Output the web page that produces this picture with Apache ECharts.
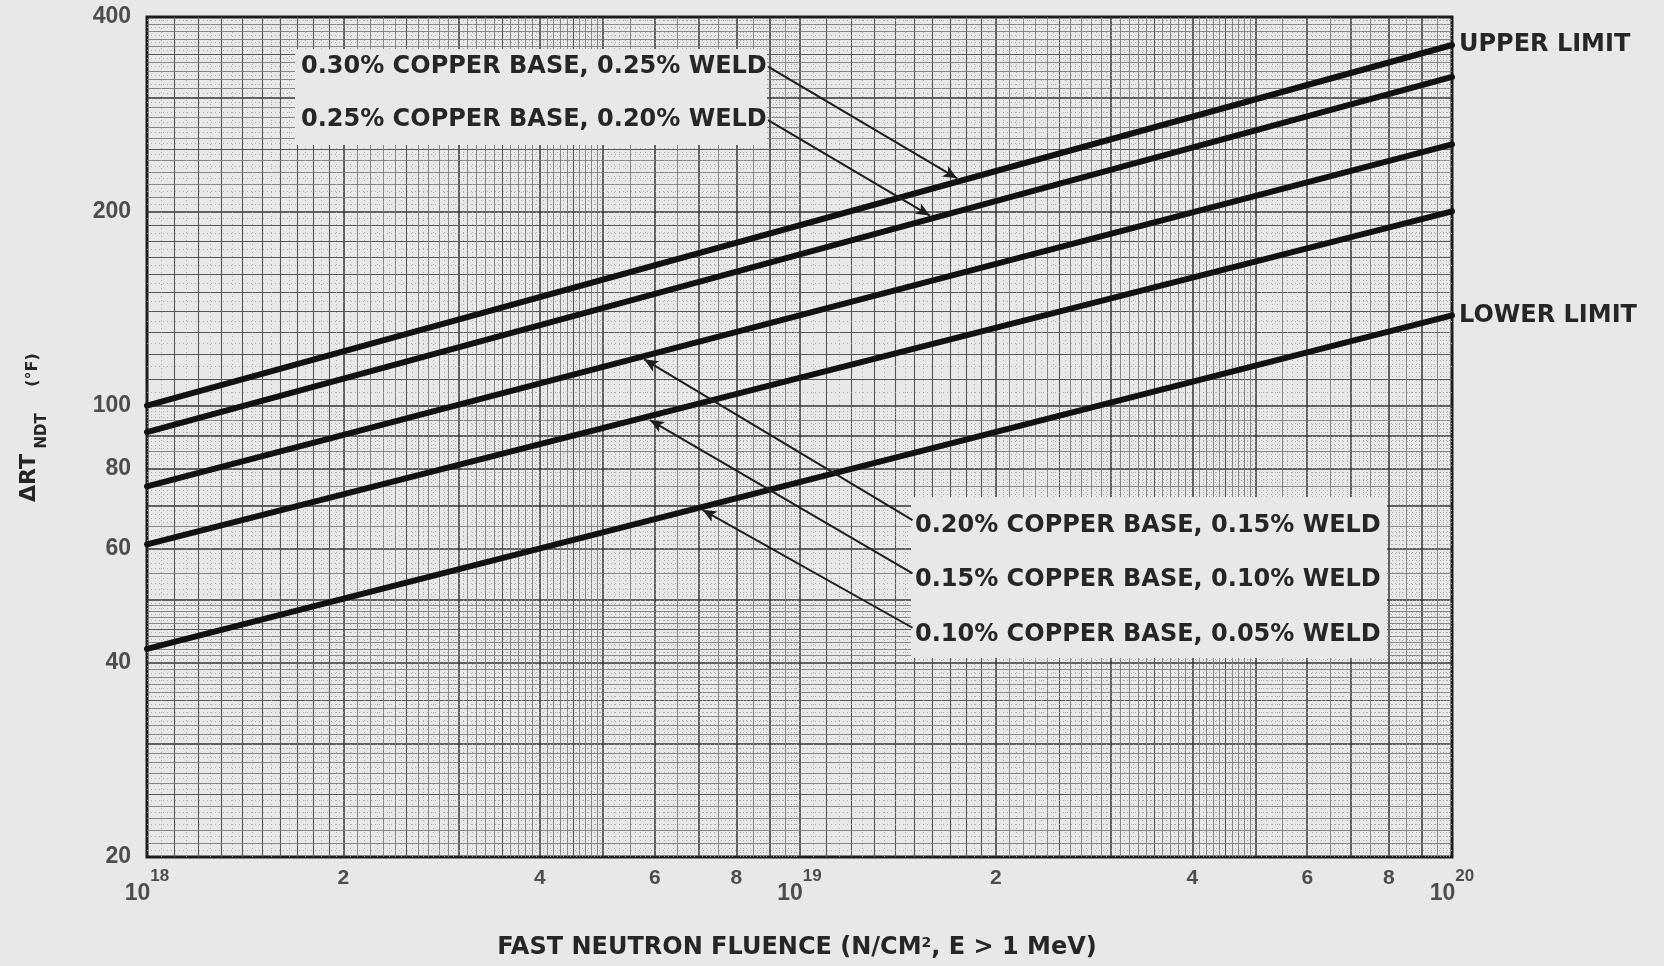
<!DOCTYPE html>
<html>
<head>
<meta charset="utf-8">
<script src="https://cdn.jsdelivr.net/npm/echarts@6/dist/echarts.min.js"></script>
<style>
  html, body { margin: 0; padding: 0; background: #e8e8e8; }
  #chart { width: 1664px; height: 966px; }
</style>
</head>
<body>
<div id="chart"></div>
<script>
// Fast neutron fluence (n/cm², E > 1 MeV) at the two ends of every trend line
const fluence = [1e18, 1e20];

// ΔRT_NDT (°F) at those fluences, one array per copper content
const cu30 = [100, 362];
const cu25 = [91, 323];
const cu20 = [75, 254];
const cu15 = [61, 200];
const cu10 = [42, 138];

const curveNames = [
  '0.30% COPPER BASE, 0.25% WELD',
  '0.25% COPPER BASE, 0.20% WELD',
  '0.20% COPPER BASE, 0.15% WELD',
  '0.15% COPPER BASE, 0.10% WELD',
  '0.10% COPPER BASE, 0.05% WELD'
];
const curveValues = [cu30, cu25, cu20, cu15, cu10];

// Tick labels
const xTickValues = [1e18, 2e18, 4e18, 6e18, 8e18, 1e19, 2e19, 4e19, 6e19, 8e19, 1e20];
const xTickText = ['{b|10}{s|18}', '{d|2}', '{d|4}', '{d|6}', '{d|8}', '{b|10}{s|19}',
                   '{d|2}', '{d|4}', '{d|6}', '{d|8}', '{b|10}{s|20}'];
const yTickValues = [20, 40, 60, 80, 100, 200, 400];

// Leader arrows from the curve captions to their lines (fluence, °F)
const leaderFrom = [[8.95e18, 335], [8.95e18, 277], [1.49e19, 66.5], [1.49e19, 55], [1.49e19, 45.3]];
const leaderTo   = [[1.744e19, 225], [1.584e19, 197], [5.78e18, 118], [5.9e18, 95], [7.1e18, 69]];

const X_MIN = 1e18, X_MAX = 1e20, Y_MIN = 20, Y_MAX = 400;
const PAPER = '#e8e8e8';
const INK = '#262626';

// ---- log-paper rulings: mantissas within one decade and their line weight ----
function decadeMantissas() {
  const out = [];
  for (let k = 100; k < 500; k += 5) out.push(k);
  for (let k = 500; k < 1000; k += 10) out.push(k);
  return out;
}
function rulingTier(k) {
  if (k % 100 === 0) return 0;
  if (k < 200) return k % 10 === 0 ? 1 : 3;
  if (k < 500) { if (k % 50 === 0) return 1; if (k % 10 === 0) return 2; return 3; }
  return k % 50 === 0 ? 2 : 3;
}
const tierLines = [[], [], [], []];
[1e18, 1e19].forEach(dec => decadeMantissas().forEach(k => {
  const v = dec * k / 100;
  if (v > X_MIN && v < X_MAX) tierLines[rulingTier(k)].push({ xAxis: v });
}));
[10, 100].forEach(dec => decadeMantissas().forEach(k => {
  const v = dec * k / 100;
  if (v > Y_MIN && v < Y_MAX) tierLines[rulingTier(k)].push({ yAxis: v });
}));
const tierStyles = [
  { color: '#343434', width: 1.5, type: 'solid' },
  { color: '#575757', width: 1.1, type: 'solid' },
  { color: '#7c7c7c', width: 0.9, type: 'solid' },
  { color: '#a6a6a6', width: 0.9, type: [1, 3] }
];
const rulingSeries = tierLines.map((lines, t) => ({
  type: 'line',
  data: [],
  z: 1,
  silent: true,
  markLine: {
    z: 1,
    silent: true,
    animation: false,
    symbol: ['none', 'none'],
    label: { show: false },
    emphasis: { disabled: true },
    lineStyle: tierStyles[t],
    data: lines
  }
}));

// ---- trend lines ----
const curveSeries = curveValues.map((vals, i) => {
  const s = {
    name: curveNames[i],
    type: 'line',
    z: 3,
    showSymbol: false,
    silent: true,
    data: fluence.map((f, j) => [f, vals[j]]),
    lineStyle: { color: '#111111', width: 6, cap: 'round' }
  };
  if (i === 0 || i === curveValues.length - 1) {
    s.endLabel = {
      show: true,
      formatter: i === 0 ? 'UPPER LIMIT' : 'LOWER LIMIT',
      distance: 7,
      color: INK,
      fontFamily: 'DejaVu Sans',
      fontWeight: 'bold',
      fontSize: 24
    };
  }
  return s;
});

// ---- leader arrows ----
const leaderSeries = {
  type: 'line',
  data: [],
  z: 4,
  silent: true,
  markLine: {
    z: 4,
    silent: true,
    animation: false,
    symbol: ['none', 'arrow'],
    symbolSize: [9, 14],
    label: { show: false },
    emphasis: { disabled: true },
    lineStyle: { color: '#1e1e1e', width: 2, type: 'solid' },
    data: leaderFrom.map((f, i) => [{ coord: f }, { coord: leaderTo[i] }])
  }
};

// ---- tick labels along the axes ----
const xLabelSeries = {
  type: 'scatter',
  z: 5,
  silent: true,
  clip: false,
  symbolSize: 0,
  data: xTickValues.map(v => [v, Y_MIN]),
  label: {
    show: true,
    position: 'bottom',
    distance: 11,
    color: INK,
    formatter: p => xTickText[p.dataIndex],
    rich: {
      b: { fontFamily: 'Liberation Sans', fontWeight: 'bold', fontSize: 23, lineHeight: 37, verticalAlign: 'bottom', color: INK },
      s: { fontFamily: 'Liberation Sans', fontWeight: 'bold', fontSize: 17, verticalAlign: 'top', color: INK },
      d: { fontFamily: 'Liberation Sans', fontWeight: 'bold', fontSize: 21, color: INK }
    }
  }
};
const yLabelSeries = {
  type: 'scatter',
  z: 5,
  silent: true,
  clip: false,
  symbolSize: 0,
  data: yTickValues.map(v => [X_MIN, v]),
  label: {
    show: true,
    position: 'left',
    distance: 16,
    color: INK,
    fontFamily: 'Liberation Sans',
    fontWeight: 'bold',
    fontSize: 23,
    formatter: p => String(yTickValues[p.dataIndex])
  }
};

// ---- captions, masks behind them, axis titles ----
const captionFont = 'bold 24px "DejaVu Sans"';
const graphics = [
  { type: 'rect', z: 2, silent: true, shape: { x: 295, y: 49, width: 472, height: 96 }, style: { fill: PAPER } },
  { type: 'rect', z: 2, silent: true, shape: { x: 911, y: 497, width: 476, height: 161 }, style: { fill: PAPER } },
  { type: 'text', z: 6, x: 301, y: 67, style: { text: curveNames[0], font: captionFont, fill: INK, align: 'left', verticalAlign: 'middle' } },
  { type: 'text', z: 6, x: 301, y: 120, style: { text: curveNames[1], font: captionFont, fill: INK, align: 'left', verticalAlign: 'middle' } },
  { type: 'text', z: 6, x: 915, y: 526, style: { text: curveNames[2], font: captionFont, fill: INK, align: 'left', verticalAlign: 'middle' } },
  { type: 'text', z: 6, x: 915, y: 580, style: { text: curveNames[3], font: captionFont, fill: INK, align: 'left', verticalAlign: 'middle' } },
  { type: 'text', z: 6, x: 915, y: 635, style: { text: curveNames[4], font: captionFont, fill: INK, align: 'left', verticalAlign: 'middle' } },
  // y-axis title, read bottom to top
  { type: 'text', z: 6, x: 29, y: 478, rotation: Math.PI / 2, style: { text: 'ΔRT', font: 'bold 22px "DejaVu Sans"', fill: INK, align: 'center', verticalAlign: 'middle' } },
  { type: 'text', z: 6, x: 42, y: 431, rotation: Math.PI / 2, style: { text: 'NDT', font: 'bold 15px "DejaVu Sans"', fill: INK, align: 'center', verticalAlign: 'middle' } },
  { type: 'text', z: 6, x: 33, y: 370, rotation: Math.PI / 2, style: { text: '(°F)', font: 'bold 16px "DejaVu Sans"', fill: INK, align: 'center', verticalAlign: 'middle' } },
  // x-axis title
  { type: 'text', z: 6, x: 797, y: 948, style: {
      text: 'FAST NEUTRON FLUENCE (N/CM{s|2}, E > 1 MeV)',
      font: 'bold 24px "DejaVu Sans"', fill: INK, align: 'center', verticalAlign: 'middle',
      rich: { s: { fontFamily: 'DejaVu Sans', fontWeight: 'bold', fontSize: 14, verticalAlign: 'top', fill: INK } }
  } }
];

const chart = echarts.init(document.getElementById('chart'));
chart.setOption({
  animation: false,
  backgroundColor: PAPER,
  grid: {
    left: 147, right: 212, top: 17, bottom: 109,
    show: true, borderColor: '#1c1c1c', borderWidth: 3, backgroundColor: 'transparent'
  },
  xAxis: {
    type: 'log', logBase: 10, min: X_MIN, max: X_MAX,
    axisLine: { show: false }, axisTick: { show: false },
    axisLabel: { show: false }, splitLine: { show: false }, minorSplitLine: { show: false }
  },
  yAxis: {
    type: 'log', logBase: 10, min: Y_MIN, max: Y_MAX,
    axisLine: { show: false }, axisTick: { show: false },
    axisLabel: { show: false }, splitLine: { show: false }, minorSplitLine: { show: false }
  },
  graphic: { elements: graphics },
  series: rulingSeries.concat(curveSeries, [leaderSeries, xLabelSeries, yLabelSeries])
});
</script>
</body>
</html>
